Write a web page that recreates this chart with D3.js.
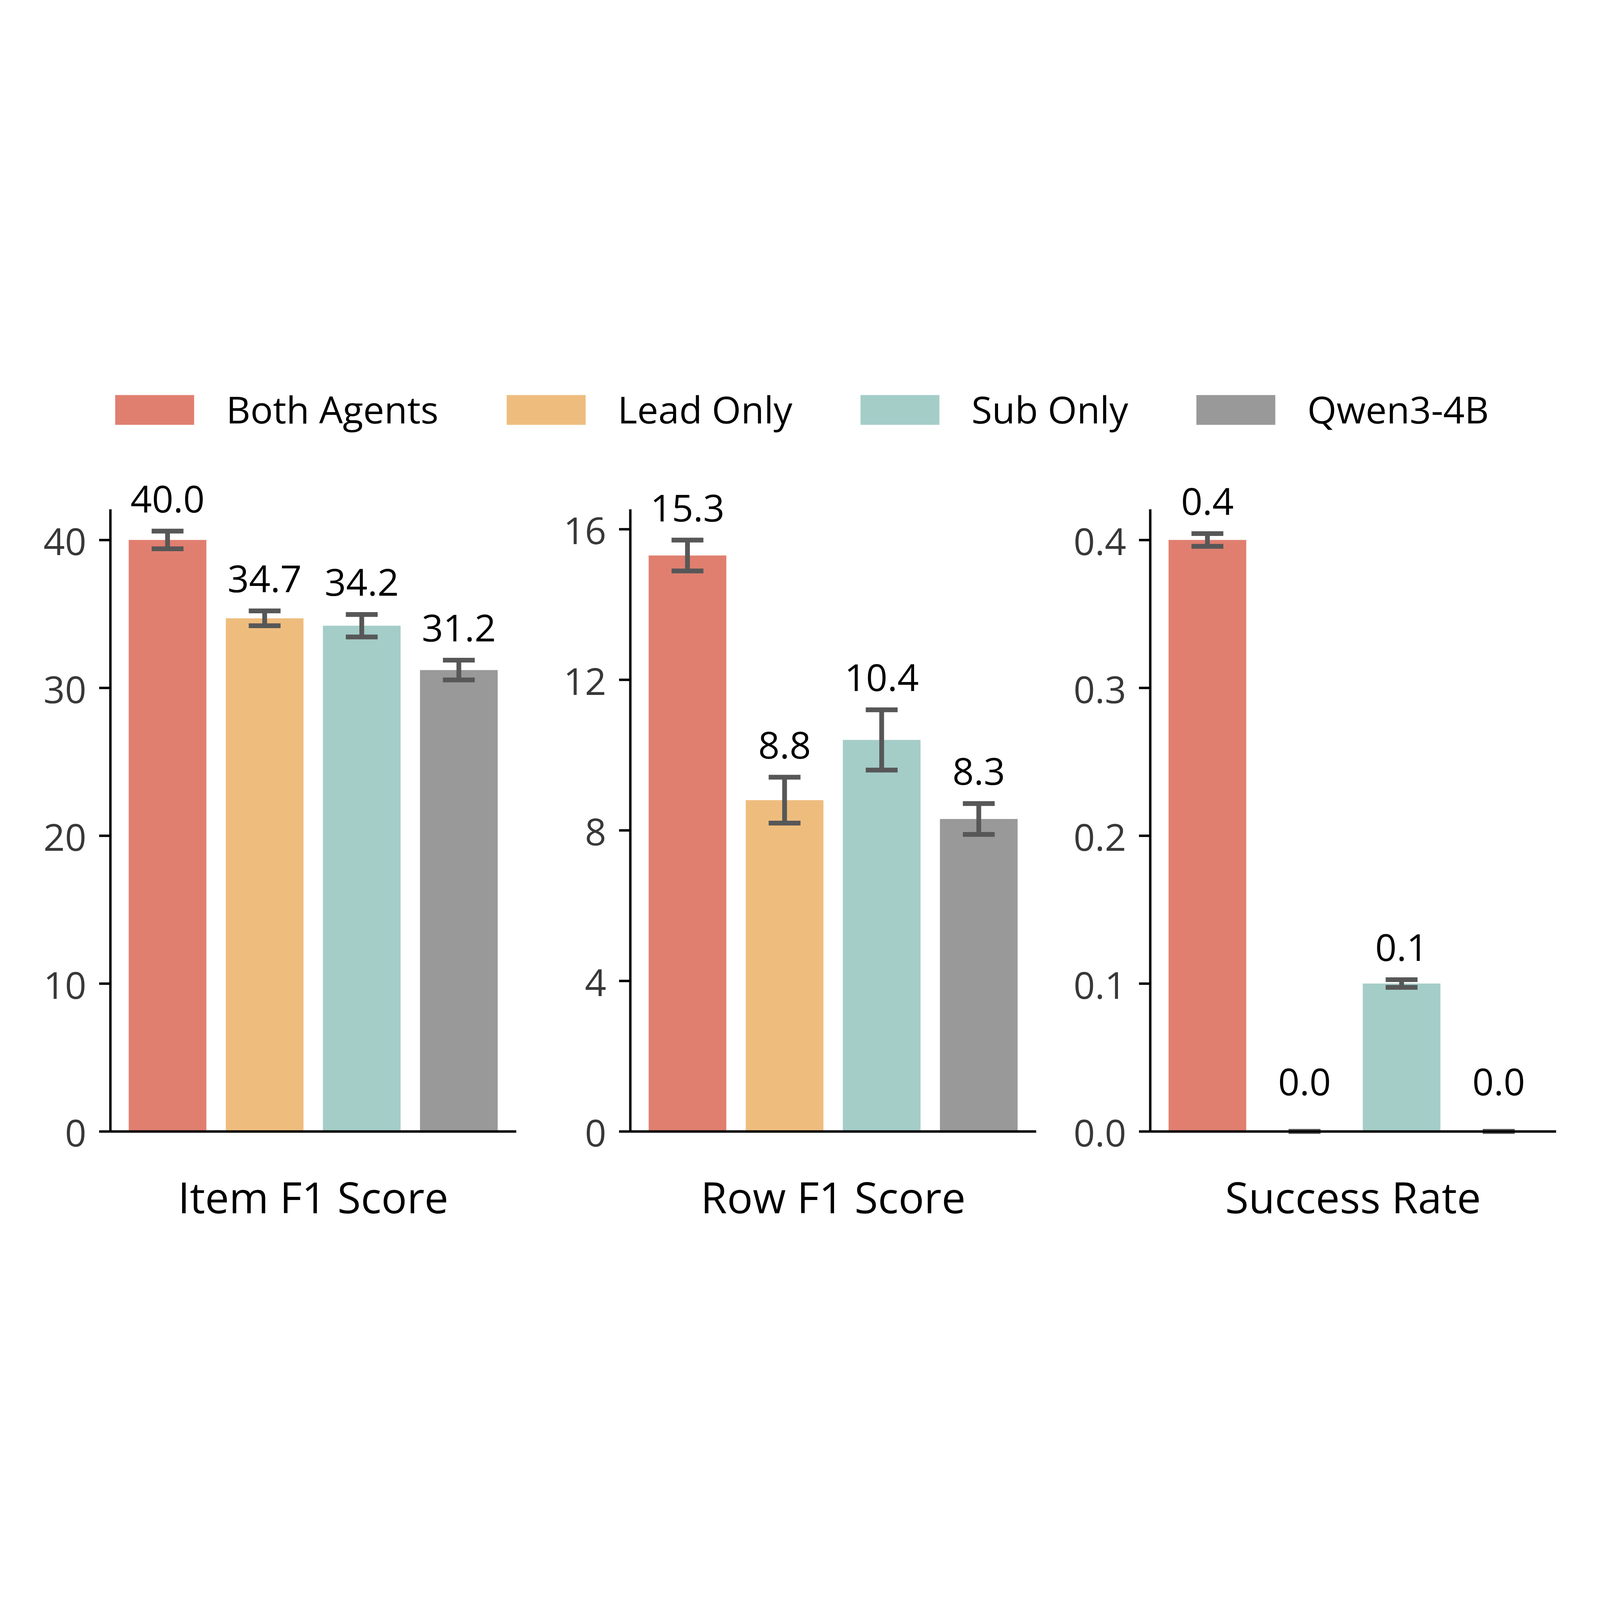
<!DOCTYPE html>
<html>
<head>
<meta charset="utf-8">
<script src="https://cdn.jsdelivr.net/npm/d3@7"></script>
<style>
  html, body { margin: 0; padding: 0; background: #fff; overflow: hidden; }
  #chart svg { display: block; width: 100vw; height: 100vh; }
  text { font-family: "Open Sans", "Noto Sans", sans-serif; }
</style>
</head>
<body>
<div id="chart"></div>
<script>
// ---- data ----
const methods = ["Both Agents", "Lead Only", "Sub Only", "Qwen3-4B"];
const colors = ["#E07F6F", "#EEBD7E", "#A4CDC8", "#999999"];
const metrics = ["Item F1 Score", "Row F1 Score", "Success Rate"];

const itemF1 = [40.0, 34.7, 34.2, 31.2];
const itemF1Err = [0.6, 0.5, 0.76, 0.67];
const rowF1 = [15.3, 8.8, 10.4, 8.3];
const rowF1Err = [0.41, 0.61, 0.8, 0.41];
const successRate = [0.4, 0.0, 0.1, 0.0];
const successRateErr = [0.0043, 0, 0.0026, 0];

const yMax = [42.08, 16.53, 0.4208];
const itemTicks = [0, 10, 20, 30, 40];
const rowTicks = [0, 4, 8, 12, 16];
const successTicks = [0, 0.1, 0.2, 0.3, 0.4];
const tickFormats = ["d", "d", ".1f"];

const values = [itemF1, rowF1, successRate];
const errors = [itemF1Err, rowF1Err, successRateErr];
const ticks = [itemTicks, rowTicks, successTicks];

// ---- layout (drawing units = reference pixels) ----
const width = 7037, height = 4106;
const panelLeft0 = 485, panelStep = 2286.7, panelW = 1785;
const plotTop = 774, plotBottom = 3510.5;
const spineW = 10.7;
const fontSize = 165;

// viewBox keeps the whole figure visible whatever the viewport size is
const svg = d3.select("#chart").append("svg")
    .attr("viewBox", [0, 0, width, height])
    .attr("preserveAspectRatio", "xMidYMid meet");

svg.append("rect")
    .attr("width", width)
    .attr("height", height)
    .attr("fill", "#fff");

metrics.forEach((metric, i) => {
    const left = panelLeft0 + i * panelStep;
    const data = methods.map((m, j) => ({ name: m, v: values[i][j], e: errors[i][j], c: colors[j] }));

    const x = d3.scaleBand()
        .domain(methods)
        .range([left, left + panelW])
        .paddingInner(0.2)
        .paddingOuter(0.19);

    const y = d3.scaleLinear()
        .domain([0, yMax[i]])
        .range([plotBottom, plotTop]);

    const g = svg.append("g");

    // bars
    g.selectAll(".bar")
        .data(data)
        .enter().append("rect")
        .attr("x", d => x(d.name))
        .attr("y", d => y(d.v))
        .attr("width", x.bandwidth())
        .attr("height", d => y(0) - y(d.v))
        .attr("fill", d => d.c);

    // error bars
    const capHalf = x.bandwidth() * 0.205;
    const cx = d => x(d.name) + x.bandwidth() / 2;
    const eb = g.selectAll(".err")
        .data(data)
        .enter().append("g")
        .attr("stroke", "#575757")
        .attr("stroke-width", 21);
    eb.append("line")
        .attr("x1", cx)
        .attr("x2", cx)
        .attr("y1", d => y(d.v - d.e))
        .attr("y2", d => y(d.v + d.e));
    eb.append("line")
        .attr("x1", d => cx(d) - capHalf)
        .attr("x2", d => cx(d) + capHalf)
        .attr("y1", d => y(d.v + d.e))
        .attr("y2", d => y(d.v + d.e));
    eb.append("line")
        .attr("x1", d => cx(d) - capHalf)
        .attr("x2", d => cx(d) + capHalf)
        .attr("y1", d => y(d.v - d.e))
        .attr("y2", d => y(d.v - d.e));

    // value labels
    g.selectAll(".val")
        .data(data)
        .enter().append("text")
        .attr("x", cx)
        .attr("y", d => Math.min(y(d.v + d.e) - 82, y(0) - 159))
        .attr("text-anchor", "middle")
        .attr("font-size", fontSize)
        .attr("fill", "#000")
        .text(d => d3.format(".1f")(d.v));

    // y axis
    const yAxis = g.append("g")
        .attr("transform", `translate(${left},0)`)
        .call(d3.axisLeft(y)
            .tickValues(ticks[i])
            .tickFormat(d3.format(tickFormats[i]))
            .tickSize(49)
            .tickSizeOuter(0)
            .tickPadding(56));
    yAxis.select(".domain").attr("stroke", "#000").attr("stroke-width", spineW);
    yAxis.selectAll(".tick line").attr("stroke", "#000").attr("stroke-width", spineW);
    yAxis.selectAll(".tick text")
        .attr("font-size", fontSize)
        .attr("font-family", "'Open Sans', 'Noto Sans', sans-serif")
        .attr("fill", "#383838")
        .attr("dy", "0.40em");

    // x axis (spine only)
    const xAxis = g.append("g")
        .attr("transform", `translate(0,${plotBottom})`)
        .call(d3.axisBottom(x).tickValues([]).tickSizeOuter(0));
    xAxis.select(".domain").attr("stroke", "#000").attr("stroke-width", spineW);

    // metric label
    g.append("text")
        .attr("x", left + panelW / 2)
        .attr("y", 3870)
        .attr("text-anchor", "middle")
        .attr("font-size", 188)
        .attr("fill", "#000")
        .text(metric);
});

// ---- legend ----
const handleW = 347, handleH = 131, handlePad = 141, colSpacing = 300;
const legend = svg.append("g");
const items = legend.selectAll(".item")
    .data(methods)
    .enter().append("g");
items.append("rect")
    .attr("y", 272)
    .attr("width", handleW)
    .attr("height", handleH)
    .attr("fill", (d, j) => colors[j]);
items.append("text")
    .attr("x", handleW + handlePad)
    .attr("y", 396)
    .attr("font-size", fontSize)
    .attr("fill", "#000")
    .text(d => d);

let cursor = 0;
items.each(function() {
    const tw = d3.select(this).select("text").node().getComputedTextLength();
    d3.select(this).attr("transform", `translate(${cursor},0)`);
    cursor += handleW + handlePad + tw + colSpacing;
});
const legendW = cursor - colSpacing;
legend.attr("transform", `translate(${(width - legendW) / 2 + 9},0)`);
</script>
</body>
</html>
